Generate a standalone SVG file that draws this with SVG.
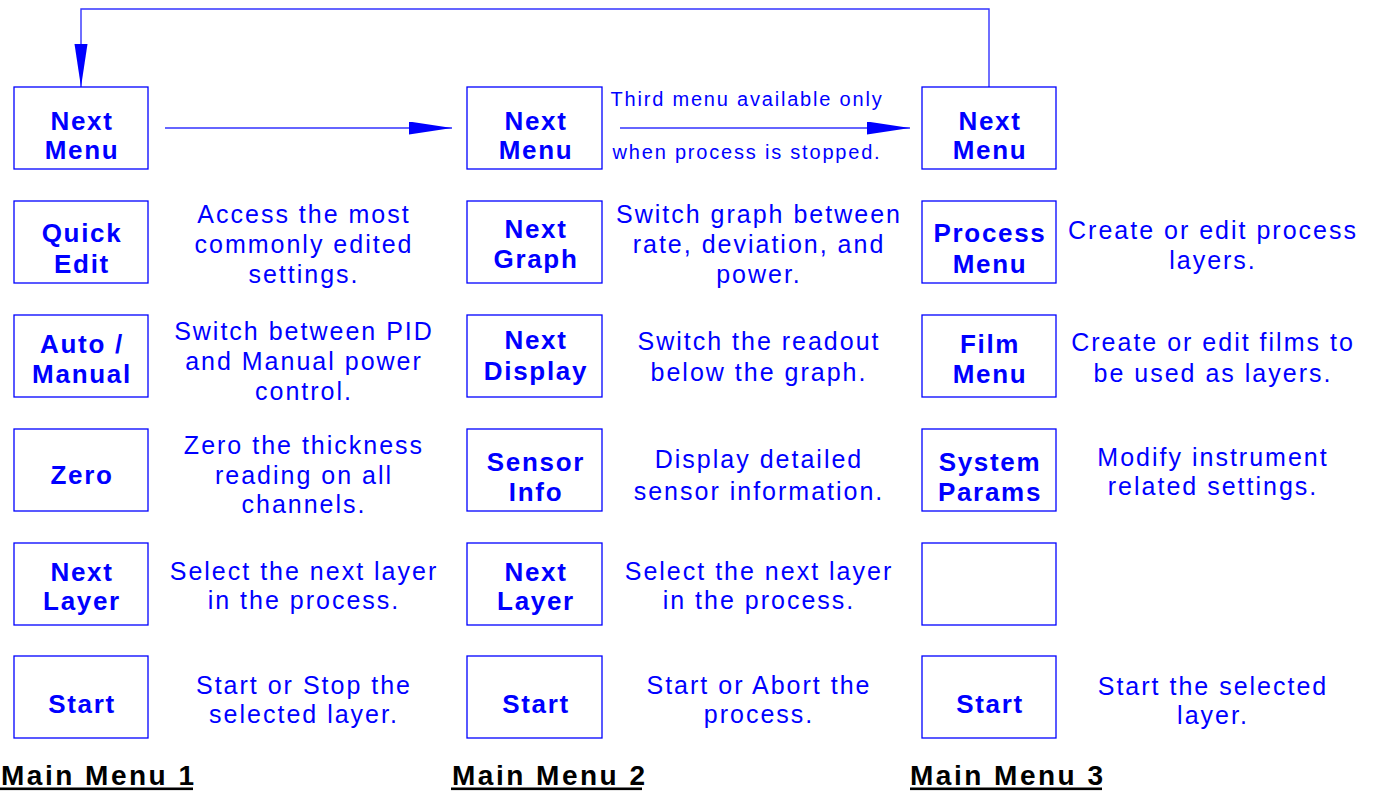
<svg xmlns="http://www.w3.org/2000/svg" width="1374" height="791" viewBox="0 0 1374 791">
<style>
.box{fill:#fff;stroke:#0000ff;stroke-width:1.3}
.lbl{font-family:"Liberation Sans",Arial,sans-serif;font-weight:bold;font-size:26px;letter-spacing:1.7px;fill:#0000ff;text-anchor:middle}
.desc{font-family:"Liberation Sans",Arial,sans-serif;font-size:25px;letter-spacing:2px;fill:#0000ff;text-anchor:middle}
.note{font-family:"Liberation Sans",Arial,sans-serif;font-size:20px;letter-spacing:1.8px;fill:#0000ff;text-anchor:middle}
.title{font-family:"Liberation Sans",Arial,sans-serif;font-weight:bold;font-size:28px;letter-spacing:2.5px;fill:#000}
.conn{fill:none;stroke:#3333ff;stroke-width:1.4}
</style>
<defs>
<marker id="ah" markerUnits="userSpaceOnUse" markerWidth="44" markerHeight="14" refX="43" refY="6.5" orient="auto">
<path d="M0,0 L43,6.5 L0,13 z" fill="#0000ff"/>
</marker>
</defs>
<rect width="1374" height="791" fill="#fff"/>
<g id="connectors">
<path class="conn" d="M165,128 H452" marker-end="url(#ah)"/>
<path class="conn" d="M620,128 H910" marker-end="url(#ah)"/>
<path class="conn" d="M989,87 V9 H81 V87" marker-end="url(#ah)"/>
</g>
<g id="note">
<text class="note" x="747" y="106">Third menu available only</text>
<text class="note" x="747" y="159">when process is stopped.</text>
</g>
<!-- Column 1 -->
<g id="m1-nextmenu"><rect class="box" x="14" y="87" width="134" height="82"/><text class="lbl" x="82" y="130">Next</text><text class="lbl" x="82" y="159">Menu</text></g>
<g id="m1-quickedit"><rect class="box" x="14" y="201" width="134" height="82"/><text class="lbl" x="82" y="242">Quick</text><text class="lbl" x="82" y="273">Edit</text>
<text class="desc" x="304" y="223">Access the most</text><text class="desc" x="304" y="253">commonly edited</text><text class="desc" x="304" y="283">settings.</text></g>
<g id="m1-automanual"><rect class="box" x="14" y="315" width="134" height="82"/><text class="lbl" x="82" y="353">Auto /</text><text class="lbl" x="82" y="383">Manual</text>
<text class="desc" x="304" y="340">Switch between PID</text><text class="desc" x="304" y="370">and Manual power</text><text class="desc" x="304" y="400">control.</text></g>
<g id="m1-zero"><rect class="box" x="14" y="429" width="134" height="82"/><text class="lbl" x="82" y="484">Zero</text>
<text class="desc" x="304" y="454">Zero the thickness</text><text class="desc" x="304" y="484">reading on all</text><text class="desc" x="304" y="513">channels.</text></g>
<g id="m1-nextlayer"><rect class="box" x="14" y="543" width="134" height="82"/><text class="lbl" x="82" y="581">Next</text><text class="lbl" x="82" y="610">Layer</text>
<text class="desc" x="304" y="580">Select the next layer</text><text class="desc" x="304" y="609">in the process.</text></g>
<g id="m1-start"><rect class="box" x="14" y="656" width="134" height="82"/><text class="lbl" x="82" y="713">Start</text>
<text class="desc" x="304" y="694">Start or Stop the</text><text class="desc" x="304" y="723">selected layer.</text></g>
<!-- Column 2 -->
<g id="m2-nextmenu"><rect class="box" x="467" y="87" width="135" height="82"/><text class="lbl" x="536" y="130">Next</text><text class="lbl" x="536" y="159">Menu</text></g>
<g id="m2-nextgraph"><rect class="box" x="467" y="201" width="135" height="82"/><text class="lbl" x="536" y="238">Next</text><text class="lbl" x="536" y="268">Graph</text>
<text class="desc" x="759" y="223">Switch graph between</text><text class="desc" x="759" y="253">rate, deviation, and</text><text class="desc" x="759" y="283">power.</text></g>
<g id="m2-nextdisplay"><rect class="box" x="467" y="315" width="135" height="82"/><text class="lbl" x="536" y="349">Next</text><text class="lbl" x="536" y="380">Display</text>
<text class="desc" x="759" y="350">Switch the readout</text><text class="desc" x="759" y="381">below the graph.</text></g>
<g id="m2-sensorinfo"><rect class="box" x="467" y="429" width="135" height="82"/><text class="lbl" x="536" y="471">Sensor</text><text class="lbl" x="536" y="501">Info</text>
<text class="desc" x="759" y="468">Display detailed</text><text class="desc" x="759" y="500">sensor information.</text></g>
<g id="m2-nextlayer"><rect class="box" x="467" y="543" width="135" height="82"/><text class="lbl" x="536" y="581">Next</text><text class="lbl" x="536" y="610">Layer</text>
<text class="desc" x="759" y="580">Select the next layer</text><text class="desc" x="759" y="609">in the process.</text></g>
<g id="m2-start"><rect class="box" x="467" y="656" width="135" height="82"/><text class="lbl" x="536" y="713">Start</text>
<text class="desc" x="759" y="694">Start or Abort the</text><text class="desc" x="759" y="723">process.</text></g>
<!-- Column 3 -->
<g id="m3-nextmenu"><rect class="box" x="922" y="87" width="134" height="82"/><text class="lbl" x="990" y="130">Next</text><text class="lbl" x="990" y="159">Menu</text></g>
<g id="m3-processmenu"><rect class="box" x="922" y="201" width="134" height="82"/><text class="lbl" x="990" y="242">Process</text><text class="lbl" x="990" y="273">Menu</text>
<text class="desc" x="1213" y="239">Create or edit process</text><text class="desc" x="1213" y="269">layers.</text></g>
<g id="m3-filmmenu"><rect class="box" x="922" y="315" width="134" height="82"/><text class="lbl" x="990" y="353">Film</text><text class="lbl" x="990" y="383">Menu</text>
<text class="desc" x="1213" y="351">Create or edit films to</text><text class="desc" x="1213" y="382">be used as layers.</text></g>
<g id="m3-systemparams"><rect class="box" x="922" y="429" width="134" height="82"/><text class="lbl" x="990" y="471">System</text><text class="lbl" x="990" y="501">Params</text>
<text class="desc" x="1213" y="466">Modify instrument</text><text class="desc" x="1213" y="495">related settings.</text></g>
<g id="m3-blank"><rect class="box" x="922" y="543" width="134" height="82"/></g>
<g id="m3-start"><rect class="box" x="922" y="656" width="134" height="82"/><text class="lbl" x="990" y="713">Start</text>
<text class="desc" x="1213" y="695">Start the selected</text><text class="desc" x="1213" y="724">layer.</text></g>
<!-- Titles -->
<g id="titles">
<text class="title" x="1" y="785">Main Menu 1</text><rect x="0" y="787.5" width="193" height="2.6" fill="#000"/>
<text class="title" x="452" y="785">Main Menu 2</text><rect x="451" y="787.5" width="191" height="2.6" fill="#000"/>
<text class="title" x="910" y="785">Main Menu 3</text><rect x="910" y="787.5" width="192" height="2.6" fill="#000"/>
</g>
</svg>
